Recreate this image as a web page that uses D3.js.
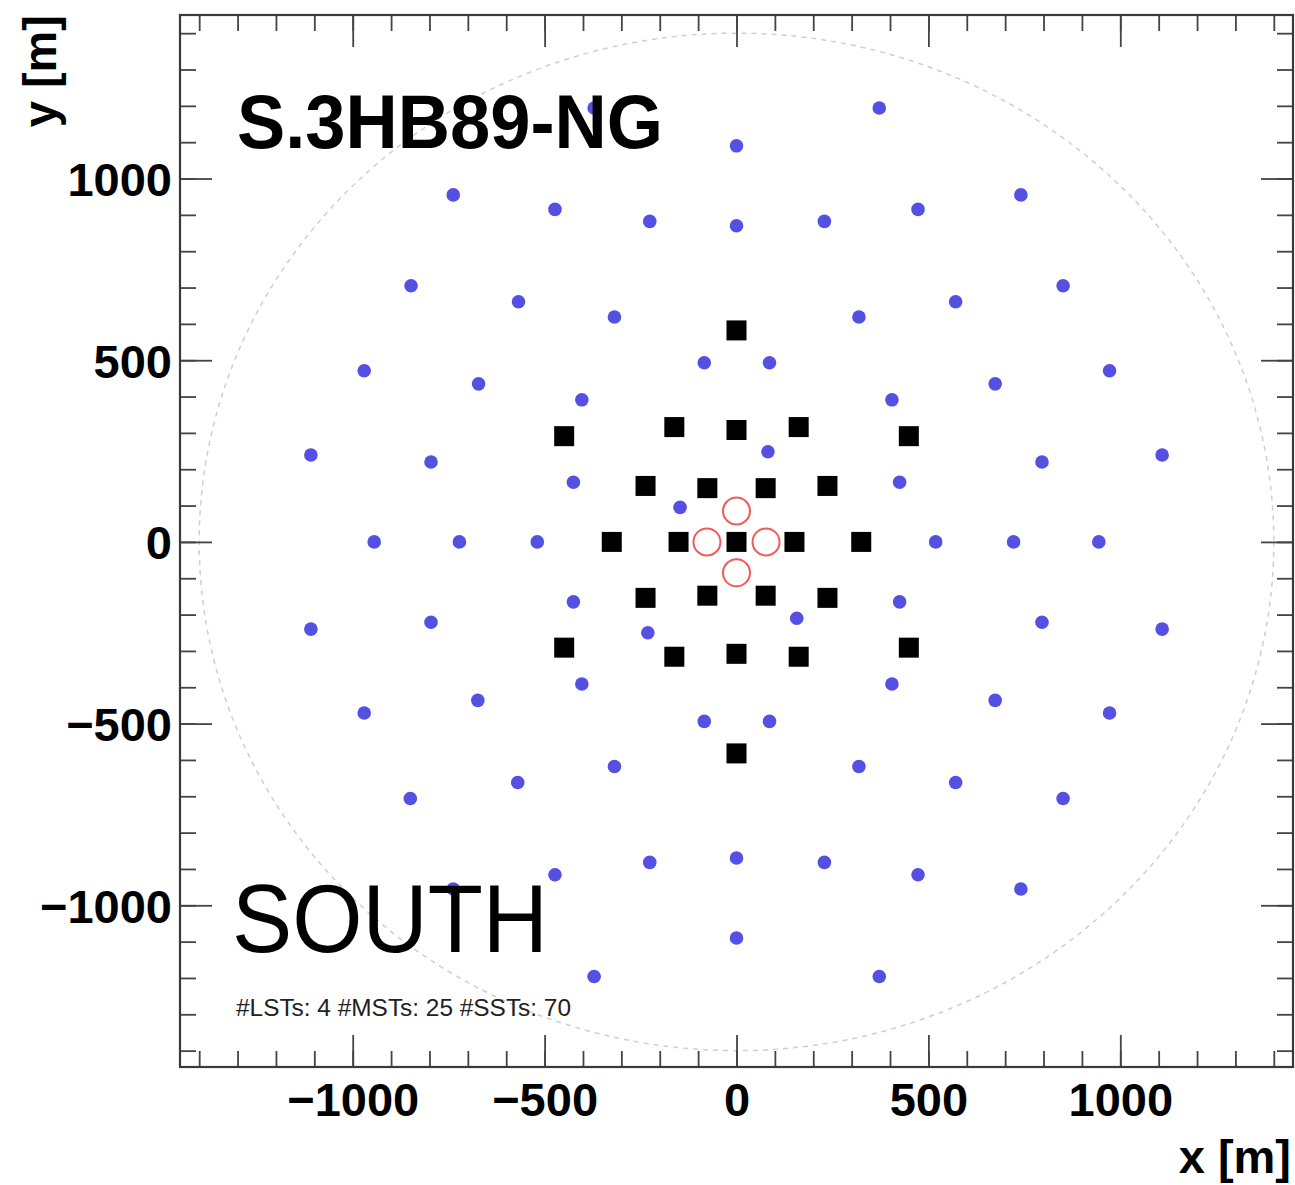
<!DOCTYPE html>
<html><head><meta charset="utf-8">
<script src="https://cdn.jsdelivr.net/npm/d3@7"></script>
<style>body{margin:0;background:#fff}</style>
</head><body>
<svg id="c" width="1295" height="1185" xmlns="http://www.w3.org/2000/svg"></svg>
<script>
// ---- data (metres) ----
const lstX = [-77, 77, 0, 0];
const lstY = [0, 0, 85, -85];

const mstX = [0, 0, 0, -449, 449, -449, 449, -162, 162, -162, 162, 0, 0,
              -237, 237, -237, 237, -76, 76, -76, 76, -325, 325, -151, 151];
const mstY = [0, 582, -582, 291, 291, -291, -291, 316, 316, -316, -316, 308, -308,
              154, 154, -154, -154, 148, 148, -148, -148, 0, 0, 0, 0];

const sstX = [-371, 372, 0, -738, 741, -473, 473, -226, 229, 0,
              -848, 851, -568, 571, -318, 319, -84, 86, -970, 972,
              -672, 674, -403, 405, 82, -1109, 1109, -796, 796, -425,
              425, -147, -944, -722, -519, 519, 722, 944, -425, 425,
              157, -231, -1109, 1109, -796, 796, 405, -403, 674, -674,
              972, -970, 86, -84, 319, -318, 571, -570, 851, -850,
              0, 229, -226, 473, -473, 741, -738, 0, 372, -371];
const sstY = [1194, 1194, 1090, 955, 955, 915, 915, 882, 882, 870,
              705, 705, 661, 661, 619, 619, 493, 493, 471, 471,
              435, 435, 391, 391, 248, 239, 239, 220, 220, 164,
              164, 95, 0, 0, 0, 0, 0, 0, -165, -165,
              -210, -250, -240, -240, -221, -221, -391, -391, -436, -436,
              -471, -471, -494, -494, -618, -618, -662, -662, -706, -706,
              -870, -882, -882, -916, -916, -955, -955, -1090, -1196, -1196];

const majorTicks = [-1000, -500, 0, 500, 1000];
const tickLabels = ["\u22121000", "\u2212500", "0", "500", "1000"];
const minorTicks = d3.range(-1400, 1401, 100);
const siteRadius = 1400;
const titleText = "S.3HB89-NG";
const siteText = "SOUTH";
const countText = "#LSTs: 4 #MSTs: 25 #SSTs: 70";
const xTitle = "x [m]";
const yTitle = "y [m]";

// ---- layout ----
const L = 180, R = 1293, T = 15, B = 1067;
const x = d3.scaleLinear().domain([-1450, 1450]).range([L, R]);
const y = d3.scaleLinear().domain([-1445, 1450]).range([B, T]);

const svg = d3.select("#c");
const FONT = "'Liberation Sans', Arial, Helvetica, sans-serif";

// dashed site circle
svg.append("ellipse")
  .attr("cx", x(0)).attr("cy", y(0))
  .attr("rx", x(siteRadius) - x(0)).attr("ry", y(0) - y(siteRadius))
  .attr("fill", "none").attr("stroke", "#cfcfcf").attr("stroke-width", 1.5)
  .attr("stroke-dasharray", "5,5");

// SSTs
svg.append("g").selectAll("circle").data(d3.range(sstX.length)).join("circle")
  .attr("cx", i => x(sstX[i])).attr("cy", i => y(sstY[i]))
  .attr("r", 6.8).attr("fill", "#5450e2");

// MSTs
const sq = 20;
svg.append("g").selectAll("rect").data(d3.range(mstX.length)).join("rect")
  .attr("x", i => x(mstX[i]) - sq / 2).attr("y", i => y(mstY[i]) - sq / 2)
  .attr("width", sq).attr("height", sq).attr("fill", "#000");

// LSTs
svg.append("g").selectAll("circle").data(d3.range(lstX.length)).join("circle")
  .attr("cx", i => x(lstX[i])).attr("cy", i => y(lstY[i]))
  .attr("r", 13.5).attr("fill", "none").attr("stroke", "#f25a5a").attr("stroke-width", 2);

// axes
function styleAxis(g) {
  g.select(".domain").remove();
  g.selectAll(".tick line").attr("stroke", "#444").attr("stroke-width", 1.8);
}
const labelFmt = d => tickLabels[majorTicks.indexOf(d)];

// bottom
svg.append("g").attr("transform", `translate(0,${B})`)
  .call(d3.axisBottom(x).tickValues(minorTicks).tickSize(-16).tickFormat(""))
  .call(styleAxis);
const gb = svg.append("g").attr("transform", `translate(0,${B})`)
  .call(d3.axisBottom(x).tickValues(majorTicks).tickSize(-32).tickPadding(16).tickFormat(labelFmt))
  .call(styleAxis);
gb.selectAll("text").attr("font-family", FONT).attr("font-weight", "bold")
  .attr("font-size", 47).attr("fill", "#000");

// top
svg.append("g").attr("transform", `translate(0,${T})`)
  .call(d3.axisTop(x).tickValues(minorTicks).tickSize(-16).tickFormat(""))
  .call(styleAxis);
svg.append("g").attr("transform", `translate(0,${T})`)
  .call(d3.axisTop(x).tickValues(majorTicks).tickSize(-32).tickFormat(""))
  .call(styleAxis);

// left
svg.append("g").attr("transform", `translate(${L},0)`)
  .call(d3.axisLeft(y).tickValues(minorTicks).tickSize(-16).tickFormat(""))
  .call(styleAxis);
const gl = svg.append("g").attr("transform", `translate(${L},0)`)
  .call(d3.axisLeft(y).tickValues(majorTicks).tickSize(-32).tickPadding(8).tickFormat(labelFmt))
  .call(styleAxis);
gl.selectAll("text").attr("font-family", FONT).attr("font-weight", "bold")
  .attr("font-size", 47).attr("fill", "#000").attr("dy", "0.36em");

// right
svg.append("g").attr("transform", `translate(${R},0)`)
  .call(d3.axisRight(y).tickValues(minorTicks).tickSize(-16).tickFormat(""))
  .call(styleAxis);
svg.append("g").attr("transform", `translate(${R},0)`)
  .call(d3.axisRight(y).tickValues(majorTicks).tickSize(-32).tickFormat(""))
  .call(styleAxis);

// frame
svg.append("rect").attr("x", L).attr("y", T).attr("width", R - L).attr("height", B - T)
  .attr("fill", "none").attr("stroke", "#3a3a3a").attr("stroke-width", 2.2);

// axis titles
svg.append("text").attr("x", 1291).attr("y", 1173).attr("text-anchor", "end")
  .attr("font-family", FONT).attr("font-weight", "bold").attr("font-size", 47)
  .text(xTitle);
svg.append("text").attr("transform", "translate(56,15) rotate(-90)").attr("text-anchor", "end")
  .attr("font-family", FONT).attr("font-weight", "bold").attr("font-size", 47)
  .text(yTitle);

// annotations
svg.append("text").attr("x", 237).attr("y", 148)
  .attr("font-family", FONT).attr("font-weight", "bold").attr("font-size", 76)
  .attr("textLength", 426).attr("lengthAdjust", "spacingAndGlyphs")
  .text(titleText);
svg.append("text").attr("x", 232).attr("y", 952)
  .attr("font-family", FONT).attr("font-size", 97)
  .attr("textLength", 316).attr("lengthAdjust", "spacingAndGlyphs")
  .text(siteText);
svg.append("text").attr("x", 236).attr("y", 1016)
  .attr("font-family", FONT).attr("font-size", 23).attr("fill", "#222")
  .attr("textLength", 335).attr("lengthAdjust", "spacingAndGlyphs")
  .text(countText);
</script>
</body></html>
